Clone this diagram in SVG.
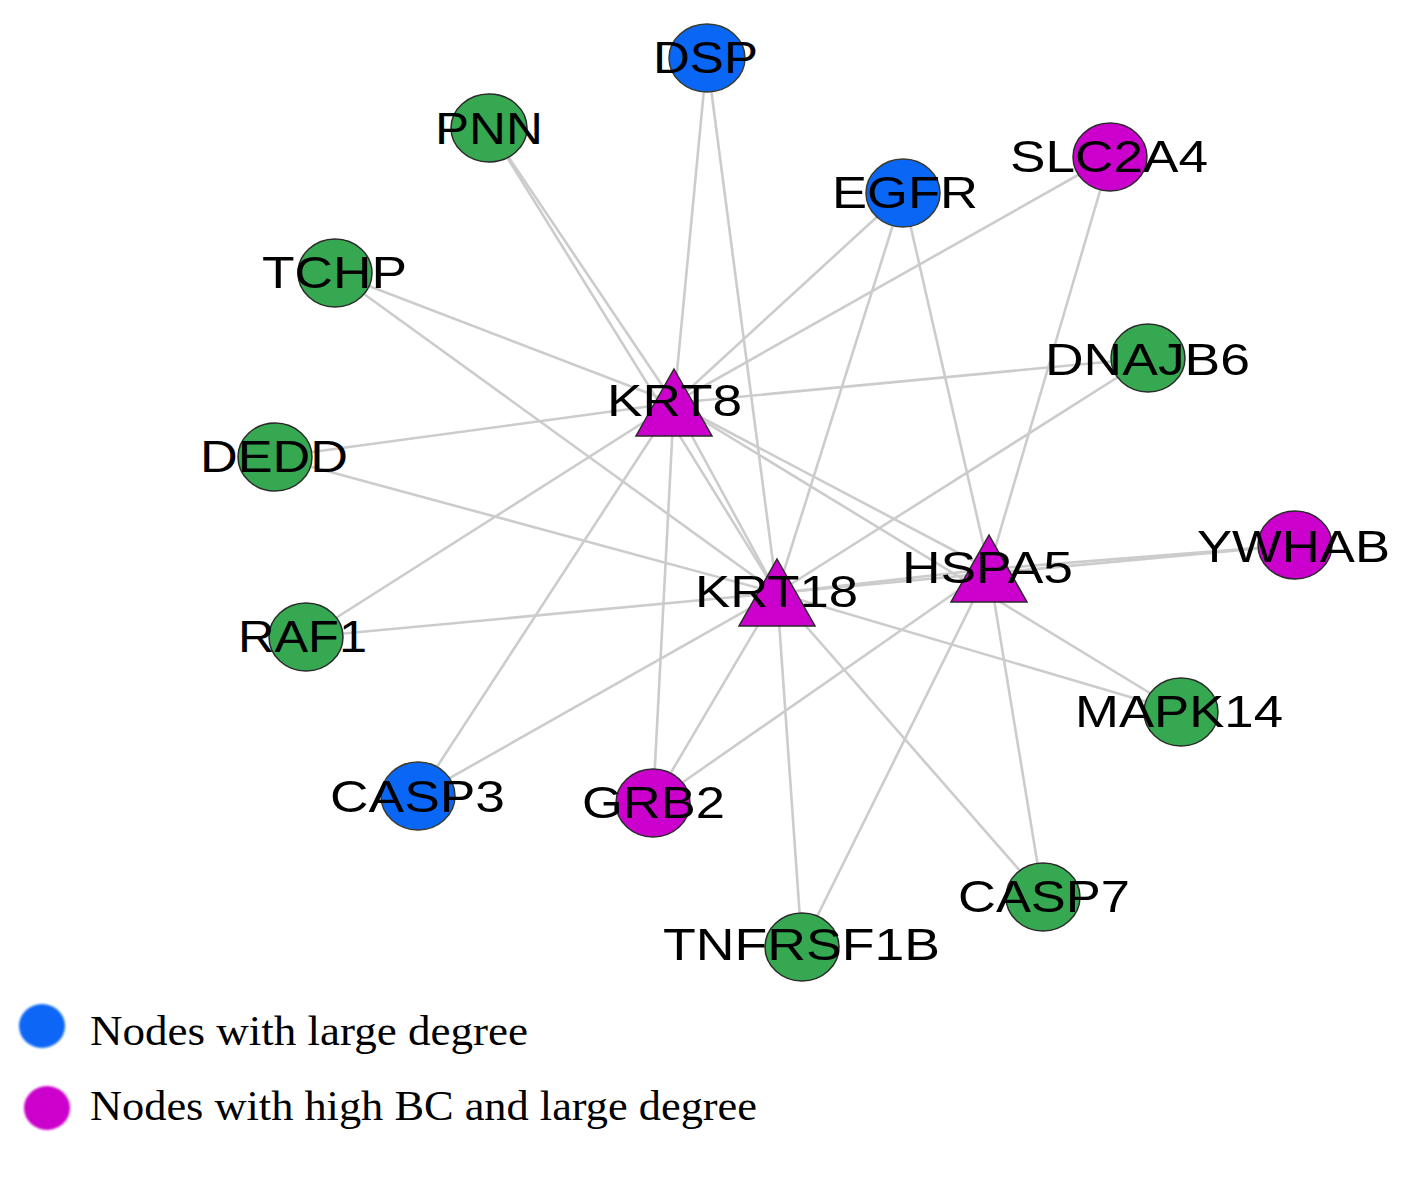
<svg xmlns="http://www.w3.org/2000/svg" width="1417" height="1181" viewBox="0 0 1417 1181">
<style>
.e{stroke:#cccccc;stroke-width:2.6;fill:none}
.g{fill:#36a851;stroke:#2a2a2a;stroke-width:1.5}
.b{fill:#0a66f5;stroke:#3a3a2a;stroke-width:1.5}
.m{fill:#cc00cc;stroke:#2a2a2a;stroke-width:1.5}
.t{font-family:"Liberation Sans",Arial,sans-serif;font-size:44px;fill:#000}
.l{font-family:"Liberation Serif","Times New Roman",serif;font-size:42px;fill:#000}
</style>
<defs>
<filter id="blur" x="-20%" y="-20%" width="140%" height="140%"><feGaussianBlur stdDeviation="1.2"/></filter>
</defs>
<rect width="1417" height="1181" fill="#fff"/>
<g id="edges">
<line class="e" x1="707" y1="58" x2="674" y2="403"/>
<line class="e" x1="707" y1="58" x2="777" y2="593"/>
<line class="e" x1="489" y1="128" x2="674" y2="403"/>
<line class="e" x1="489" y1="128" x2="777" y2="593"/>
<line class="e" x1="903" y1="193" x2="674" y2="403"/>
<line class="e" x1="903" y1="193" x2="777" y2="593"/>
<line class="e" x1="903" y1="193" x2="989" y2="569"/>
<line class="e" x1="1110" y1="157" x2="674" y2="403"/>
<line class="e" x1="1110" y1="157" x2="989" y2="569"/>
<line class="e" x1="335" y1="273" x2="674" y2="403"/>
<line class="e" x1="335" y1="273" x2="777" y2="593"/>
<line class="e" x1="1148" y1="358" x2="674" y2="403"/>
<line class="e" x1="1148" y1="358" x2="777" y2="593"/>
<line class="e" x1="275" y1="457" x2="674" y2="403"/>
<line class="e" x1="275" y1="457" x2="777" y2="593"/>
<line class="e" x1="306" y1="637" x2="674" y2="403"/>
<line class="e" x1="306" y1="637" x2="777" y2="593"/>
<line class="e" x1="418" y1="796" x2="674" y2="403"/>
<line class="e" x1="418" y1="796" x2="777" y2="593"/>
<line class="e" x1="653" y1="803" x2="674" y2="403"/>
<line class="e" x1="653" y1="803" x2="777" y2="593"/>
<line class="e" x1="653" y1="803" x2="989" y2="569"/>
<line class="e" x1="802" y1="947" x2="777" y2="593"/>
<line class="e" x1="802" y1="947" x2="989" y2="569"/>
<line class="e" x1="1043" y1="897" x2="777" y2="593"/>
<line class="e" x1="1043" y1="897" x2="989" y2="569"/>
<line class="e" x1="1181" y1="712" x2="674" y2="403"/>
<line class="e" x1="1181" y1="712" x2="777" y2="593"/>
<line class="e" x1="1295" y1="545" x2="989" y2="569"/>
<line class="e" x1="1295" y1="545" x2="777" y2="593"/>
<line class="e" x1="674" y1="403" x2="777" y2="593"/>
<line class="e" x1="674" y1="403" x2="989" y2="569"/>
<line class="e" x1="777" y1="593" x2="989" y2="569"/>
</g>
<g id="DSP"><ellipse class="b" cx="707" cy="58" rx="38" ry="34"/><text class="t" x="653" y="73" textLength="105" lengthAdjust="spacingAndGlyphs">DSP</text></g>
<g id="PNN"><ellipse class="g" cx="489" cy="128" rx="38" ry="34"/><text class="t" x="435" y="144" textLength="108" lengthAdjust="spacingAndGlyphs">PNN</text></g>
<g id="EGFR"><ellipse class="b" cx="903" cy="193" rx="37" ry="34"/><text class="t" x="832" y="208" textLength="146" lengthAdjust="spacingAndGlyphs">EGFR</text></g>
<g id="SLC2A4"><ellipse class="m" cx="1110" cy="157" rx="37" ry="34"/><text class="t" x="1010" y="172" textLength="198" lengthAdjust="spacingAndGlyphs">SLC2A4</text></g>
<g id="TCHP"><ellipse class="g" cx="335" cy="273" rx="37" ry="34"/><text class="t" x="262" y="288" textLength="145" lengthAdjust="spacingAndGlyphs">TCHP</text></g>
<g id="DNAJB6"><ellipse class="g" cx="1148" cy="358" rx="37" ry="34"/><text class="t" x="1045" y="375" textLength="205" lengthAdjust="spacingAndGlyphs">DNAJB6</text></g>
<g id="DEDD"><ellipse class="g" cx="275" cy="457" rx="37" ry="34"/><text class="t" x="200" y="472" textLength="148" lengthAdjust="spacingAndGlyphs">DEDD</text></g>
<g id="RAF1"><ellipse class="g" cx="306" cy="637" rx="37" ry="34"/><text class="t" x="238" y="652" textLength="129" lengthAdjust="spacingAndGlyphs">RAF1</text></g>
<g id="YWHAB"><ellipse class="m" cx="1295" cy="545" rx="37" ry="34"/><text class="t" x="1197" y="562" textLength="193" lengthAdjust="spacingAndGlyphs">YWHAB</text></g>
<g id="MAPK14"><ellipse class="g" cx="1181" cy="712" rx="37" ry="34"/><text class="t" x="1075" y="727" textLength="208" lengthAdjust="spacingAndGlyphs">MAPK14</text></g>
<g id="CASP3"><ellipse class="b" cx="418" cy="796" rx="37" ry="34"/><text class="t" x="330" y="812" textLength="175" lengthAdjust="spacingAndGlyphs">CASP3</text></g>
<g id="GRB2"><ellipse class="m" cx="653" cy="803" rx="37" ry="34"/><text class="t" x="582" y="818" textLength="143" lengthAdjust="spacingAndGlyphs">GRB2</text></g>
<g id="CASP7"><ellipse class="g" cx="1043" cy="897" rx="37" ry="34"/><text class="t" x="958" y="912" textLength="172" lengthAdjust="spacingAndGlyphs">CASP7</text></g>
<g id="TNFRSF1B"><ellipse class="g" cx="802" cy="947" rx="37" ry="34"/><text class="t" x="663" y="960" textLength="277" lengthAdjust="spacingAndGlyphs">TNFRSF1B</text></g>
<g id="KRT8"><polygon class="m" points="674,369 712,436 636,436"/><text class="t" x="607" y="416" textLength="135" lengthAdjust="spacingAndGlyphs">KRT8</text></g>
<g id="KRT18"><polygon class="m" points="777,559 815,626 739,626"/><text class="t" x="695" y="607" textLength="163" lengthAdjust="spacingAndGlyphs">KRT18</text></g>
<g id="HSPA5"><polygon class="m" points="989,535 1027,602 951,602"/><text class="t" x="902" y="583" textLength="171" lengthAdjust="spacingAndGlyphs">HSPA5</text></g>
<g id="legend">
<ellipse cx="42" cy="1026" rx="23" ry="22" fill="#0a66f5" filter="url(#blur)"/>
<text class="l" x="90" y="1045" textLength="438" lengthAdjust="spacingAndGlyphs">Nodes with large degree</text>
<ellipse cx="47" cy="1108" rx="23" ry="22" fill="#cc00cc" filter="url(#blur)"/>
<text class="l" x="90" y="1120" textLength="667" lengthAdjust="spacingAndGlyphs">Nodes with high BC and large degree</text>
</g>
</svg>
